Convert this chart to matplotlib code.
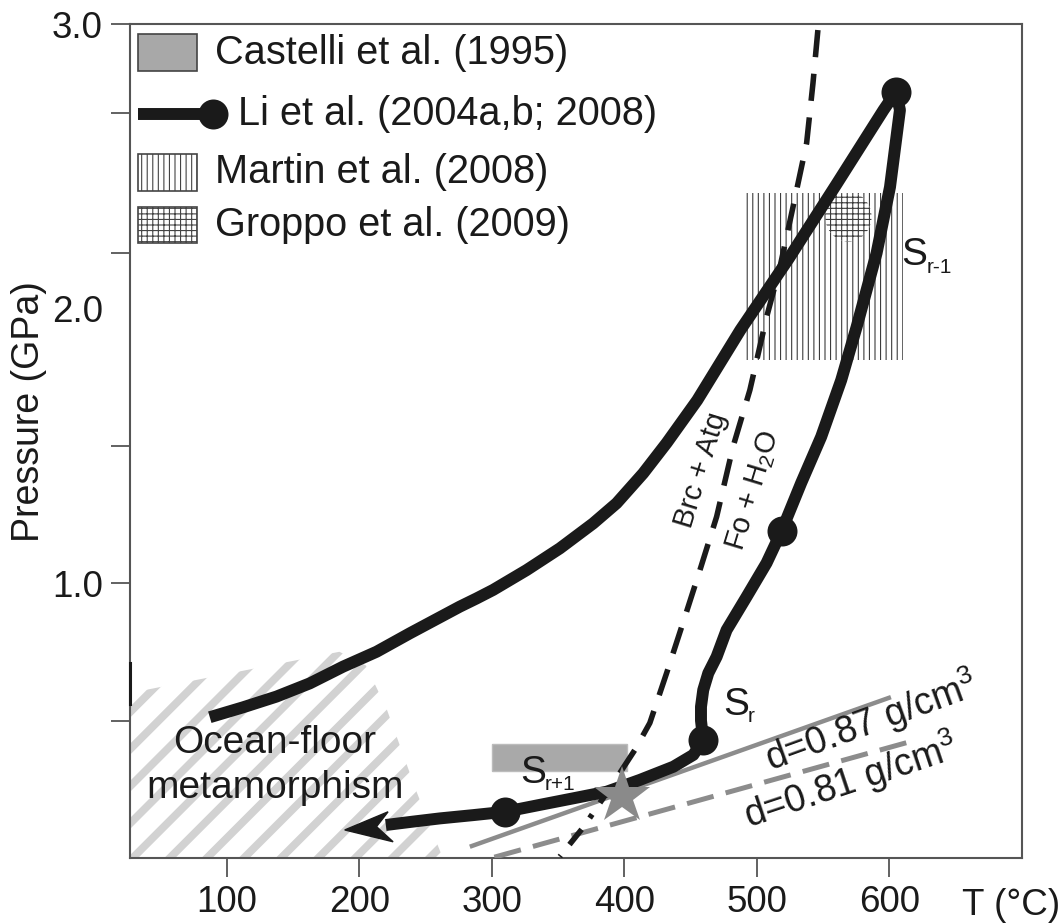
import numpy as np
import matplotlib.pyplot as plt
from matplotlib.patches import Rectangle, Ellipse, Polygon

plt.rcParams['font.family'] = ['Liberation Sans', 'DejaVu Sans']
plt.rcParams['mathtext.fontset'] = 'custom'
plt.rcParams['mathtext.rm'] = 'Liberation Sans'
plt.rcParams['mathtext.it'] = 'Liberation Sans:italic'
plt.rcParams['hatch.color'] = '#3c3c3c'
plt.rcParams['hatch.linewidth'] = 0.8

INK = '#1a1a1a'
AXC = '#555555'

# Li et al. (2004a,b; 2008) P-T path, T in degC, P in GPa
path_T = [87.2, 112.3, 137.5, 162.6, 187.8, 213, 238.1, 275.8, 288.5, 301, 326.2, 351.3, 376.5, 394.1,
          414.2, 432, 455, 487.5, 524, 560, 595.5, 605,
          607.9, 600.4, 590.3, 575.2, 563.6, 548.5, 533.4, 518.6, 507.3, 492.2, 477.1, 469.6, 463.3,
          459.5, 457.8, 457.8, 459.5,
          452, 437, 411.7, 386.6, 361.4, 336, 309.8, 286, 260.8, 240, 220]
path_P = [0.512, 0.548, 0.587, 0.635, 0.696, 0.75, 0.817, 0.914, 0.944, 0.975, 1.047, 1.126, 1.217, 1.29,
          1.399, 1.51, 1.665, 1.92, 2.18, 2.45, 2.72, 2.787,
          2.72, 2.44, 2.2, 1.931, 1.738, 1.532, 1.364, 1.189, 1.073, 0.95, 0.829, 0.732, 0.672,
          0.611, 0.55, 0.50, 0.429,
          0.375, 0.332, 0.284, 0.241, 0.217, 0.193, 0.168, 0.156, 0.144, 0.132, 0.12]
dots_T = [605, 518.6, 459.5, 309.8]
dots_P = [2.787, 1.189, 0.429, 0.168]
arrow_T = [189, 221.7, 213, 225.5]
arrow_P = [0.102, 0.168, 0.114, 0.059]

# Brc + Atg = Fo + H2O reaction
bound_T = [546.0, 542.3, 537.5, 527.2, 517.4, 507.3, 494.7, 482, 469.6, 457.0, 444.2, 431.9, 419.2,
           407.9, 389.8, 369.4, 351.3]
bound_P = [3.011, 2.818, 2.6, 2.367, 2.149, 1.967, 1.702, 1.496, 1.241, 1.047, 0.855, 0.673, 0.491,
           0.393, 0.259, 0.114, 0.005]

# density isopleths
d087_T = [283.4, 601.1]
d087_P = [0.041, 0.585]
d081_T = [301.9, 620.8]
d081_P = [0.003, 0.43]

# literature fields
castelli_T = [300, 402]
castelli_P = [0.315, 0.415]
martin_T = [492, 610]
martin_P = [1.81, 2.42]
groppo_T, groppo_P = 569, 2.332
groppo_w, groppo_h = 35, 0.18
star_T, star_P = 397.9, 0.225

# ocean-floor metamorphism field outline
ocean_T = [27, 27, 185, 205, 220.5, 243.2, 263]
ocean_P = [0, 0.6, 0.75, 0.70, 0.544, 0.241, 0]

xlim = (27, 700)
ylim = (0, 3.033)

fig = plt.figure(figsize=(10.63, 9.23), dpi=100)
ax = fig.add_axes([130 / 1063, 65 / 923, 892 / 1063, 834 / 923])
ax.set_xlim(*xlim)
ax.set_ylim(*ylim)

# hatched ocean-floor field, 45 degree stripes clipped to the outline
ocean = Polygon(list(zip(ocean_T, ocean_P)), closed=True, facecolor='none', edgecolor='none')
ax.add_patch(ocean)
slope = ((xlim[1] - xlim[0]) / 892) / ((ylim[1] - ylim[0]) / 834)
for c in np.arange(29 - 28 * 8, 300, 28):
    pp = np.array([-0.1, 1.0])
    ln, = ax.plot(c + slope * pp, pp, color='#d2d2d2', lw=5.6, zorder=1, solid_capstyle='butt')
    ln.set_clip_path(ocean)
ax.plot([xlim[0], xlim[0]], [0.56, 0.71], color=INK, lw=2.2, clip_on=False, zorder=5)

ax.add_patch(Rectangle((castelli_T[0], castelli_P[0]), castelli_T[1] - castelli_T[0],
                       castelli_P[1] - castelli_P[0], facecolor='#a9a9a9', edgecolor='#bcbcbc',
                       lw=1, zorder=2))
martin = Rectangle((martin_T[0], martin_P[0]), martin_T[1] - martin_T[0], martin_P[1] - martin_P[0],
                   facecolor='none', hatch='|||', lw=0, zorder=2)
ax.add_patch(martin)
groppo = Ellipse((groppo_T, groppo_P), groppo_w, groppo_h, facecolor='white', hatch='+++', lw=0, zorder=2.5)
ax.add_patch(groppo)
groppo.set_clip_path(martin)

ax.plot(d087_T, d087_P, color='#8c8c8c', lw=3.2, zorder=3, solid_capstyle='butt')
ax.plot(d081_T, d081_P, color='#8c8c8c', lw=3.6, ls=(0, (5.5, 2.5)), zorder=3)

ax.plot(bound_T[:-2], bound_P[:-2], color=INK, lw=4, ls=(0, (4.9, 3.0)), zorder=4)
ax.plot(bound_T[-3:], bound_P[-3:], color=INK, lw=4, ls=(0, (3.5, 2.5, 0.8, 2.5)), zorder=4)

ax.plot(path_T, path_P, color=INK, lw=8.6, solid_joinstyle='round', solid_capstyle='butt', zorder=6)
ax.plot(dots_T, dots_P, 'o', ms=21.6, color=INK, mew=0, zorder=7)
ax.add_patch(Polygon(list(zip(arrow_T, arrow_P)), closed=True, facecolor=INK, edgecolor=INK, lw=1, zorder=7))
ax.plot(star_T, star_P, marker='*', ms=43, color='#8a8a8a', mew=0, zorder=8)

# labels inside the plot
ax.text(136.2, 0.381, 'Ocean-floor', ha='center', va='baseline', fontsize=28, color=INK, zorder=9)
ax.text(136.2, 0.217, 'metamorphism', ha='center', va='baseline', fontsize=28, color=INK, zorder=9)
ax.text(458, 1.411, 'Brc + Atg', rotation=73, ha='center', va='center', rotation_mode='anchor',
        fontsize=21, color=INK)
ax.text(497, 1.338, 'Fo + H$_2$O', rotation=73, ha='center', va='center', rotation_mode='anchor',
        fontsize=21, color=INK)
ax.text(586, 0.497, 'd=0.87 g/cm$^3$', rotation=20, ha='center', va='center', rotation_mode='anchor',
        fontsize=27, color=INK)
ax.text(571, 0.28, 'd=0.81 g/cm$^3$', rotation=18.5, ha='center', va='center', rotation_mode='anchor',
        fontsize=27, color=INK)
for s_T, s_P, sub_T, sub_P, sub in [(609.2, 2.156, 628.3, 2.127, 'r-1'),
                                    (474.3, 0.52, 492.8, 0.495, 'r'),
                                    (321.1, 0.272, 340, 0.247, 'r+1')]:
    ax.text(s_T, s_P, 'S', ha='left', va='baseline', fontsize=28, color=INK, zorder=9)
    ax.text(sub_T, sub_P, sub, ha='left', va='baseline', fontsize=15, color=INK, zorder=9)

# legend drawn by hand in axes fraction
ta = ax.transAxes
ax.add_patch(Rectangle((0.009, 0.9436), 0.066, 0.0444, facecolor='#a8a8a8', edgecolor='#444444',
                       lw=1.2, transform=ta))
ax.plot([0.009, 0.09], [0.892, 0.892], color=INK, lw=8.6, solid_capstyle='butt', transform=ta)
ax.plot([0.093], [0.892], 'o', ms=21.6, color=INK, mew=0, transform=ta)
ax.add_patch(Rectangle((0.009, 0.7998), 0.066, 0.0444, facecolor='white', edgecolor='#444444',
                       hatch='|||', lw=1.2, transform=ta))
ax.add_patch(Rectangle((0.009, 0.7374), 0.066, 0.0432, facecolor='white', edgecolor='#444444',
                       hatch='+++', lw=1.2, transform=ta))
leg_font = dict(fontsize=28.6, color=INK, va='center', ha='left', transform=ta)
ax.text(0.0953, 0.965, 'Castelli et al. (1995)', **leg_font)
ax.text(0.121, 0.892, 'Li et al. (2004a,b; 2008)', **leg_font)
ax.text(0.0953, 0.8225, 'Martin et al. (2008)', **leg_font)
ax.text(0.0953, 0.759, 'Groppo et al. (2009)', **leg_font)

# axes styling
for sp in ax.spines.values():
    sp.set_color(AXC)
    sp.set_linewidth(1.5)
ax.set_xticks([100, 200, 300, 400, 500, 600])
ax.set_yticks([1.0, 2.0, ylim[1]])
ax.set_yticklabels(['1.0', '2.0', '3.0'])
ax.set_yticks([0.5, 1.5, 2.2, 2.71], minor=True)
ax.tick_params(which='both', direction='out', length=13.5, width=1.3, color=AXC, labelsize=26.5,
               labelcolor=INK)
ax.tick_params(axis='x', pad=6)
ax.tick_params(axis='y', pad=6)
ax.yaxis.get_major_ticks()[1].tick1line.set_visible(False)

fig.text(29 / 1063, 1 - 412 / 923, 'Pressure (GPa)', rotation=90, ha='center', va='center',
         fontsize=27, color=INK)
fig.text(962 / 1063, 1 - 915 / 923, 'T (°C)', ha='left', va='baseline', fontsize=26.5, color=INK)

fig.savefig('out.png', dpi=100)
